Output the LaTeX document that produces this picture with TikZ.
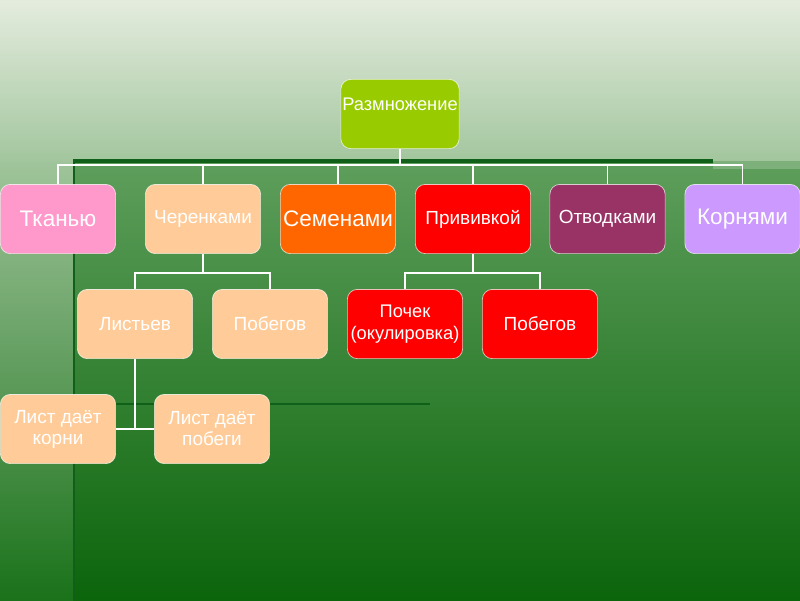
\documentclass[tikz,border=0pt]{standalone}
\usepackage{fontspec}
\setmainfont{Liberation Sans}
\usetikzlibrary{calc}
\definecolor{bgtop}{HTML}{E4ECDE}
\definecolor{bgmid}{HTML}{A3C69E}
\definecolor{bggreen}{HTML}{5E9E5C}
\definecolor{bgmiddle}{HTML}{3A873A}
\definecolor{bgdark}{HTML}{0B650B}
\definecolor{striptop}{HTML}{A0C49B}
\definecolor{stripmid}{HTML}{4A924A}
\definecolor{stripbot}{HTML}{1A721A}
\definecolor{stripe}{HTML}{10601A}
\definecolor{rootgreen}{HTML}{99CC00}
\definecolor{tkpink}{HTML}{FF99CC}
\definecolor{peach}{HTML}{FFCC99}
\definecolor{semorange}{HTML}{FF6600}
\definecolor{privred}{HTML}{FF0000}
\definecolor{otvplum}{HTML}{993366}
\definecolor{kornlilac}{HTML}{CC99FF}
\begin{document}
\begin{tikzpicture}[x=0.025cm,y=-0.025cm,
  box/.style={draw=white,draw opacity=0.7,line width=0.5pt,rounded corners=7pt,minimum width=2.88cm,minimum height=1.73cm,inner sep=1pt,align=center,text=white,font=\fontsize{13.5}{15}\selectfont},
  big/.style={font=\fontsize{16}{18}\selectfont},
  small/.style={font=\fontsize{13}{15.5}\selectfont},
  link/.style={draw=white,line width=1.3pt}]
  \useasboundingbox (0,0) rectangle (800,600);
  % slide background
  \shade[top color=bgtop,bottom color=bgmid] (0,0) rectangle (800,161);
  \shade[top color=bggreen,middle color=bgmiddle,bottom color=bgdark] (0,161) rectangle (800,600);
  \shade[top color=striptop,middle color=stripmid,bottom color=stripbot] (0,161) rectangle (73,600);
  \fill[bgmid!45!bggreen] (713,161) rectangle (800,169);
  \draw[stripe,line width=2.2pt] (73,161) -- (713,161);
  \draw[stripe,line width=1.4pt] (74,161) -- (74,600);
  \draw[stripe,line width=2pt] (74,404) -- (430,404);
  % boxes
  \node[box,fill=rootgreen,small,text depth=14pt](root) at (400,114){Размножение};
  \node[box,fill=tkpink,big](tk) at (58,219){Тканью};
  \node[box,fill=peach](cher) at (203,219){Черенками};
  \node[box,fill=semorange,big](sem) at (338,219){Семенами};
  \node[box,fill=privred](priv) at (473,219){Прививкой};
  \node[box,fill=otvplum](otv) at (607.5,219){Отводками};
  \node[box,fill=kornlilac,big](korn) at (742.5,219){Корнями};
  \node[box,fill=peach](list) at (135,324){Листьев};
  \node[box,fill=peach](pobc) at (270,324){Побегов};
  \node[box,fill=privred,small](poch) at (405,324){Почек\\(окулировка)};
  \node[box,fill=privred](pobp) at (540,324){Побегов};
  \node[box,fill=peach](lk) at (58,429){Лист даёт\\корни};
  \node[box,fill=peach](lp) at (212,429){Лист даёт\\побеги};
  % connectors
  \coordinate(bus) at (400,165);
  \draw[link](root.south)--(bus);
  \foreach \n in {tk,cher,sem,priv,otv,korn} \draw[link](bus)-|(\n.north);
  \coordinate(cj) at (203,273); \draw[link](cher.south)--(cj);
  \draw[link](cj)-|(list.north); \draw[link](cj)-|(pobc.north);
  \coordinate(pj) at (473,273); \draw[link](priv.south)--(pj);
  \draw[link](pj)-|(poch.north); \draw[link](pj)-|(pobp.north);
  \draw[link](list.south)--(list.south|-lk.east);
  \draw[link](lk.east)--(lp.west);
\end{tikzpicture}
\end{document}
